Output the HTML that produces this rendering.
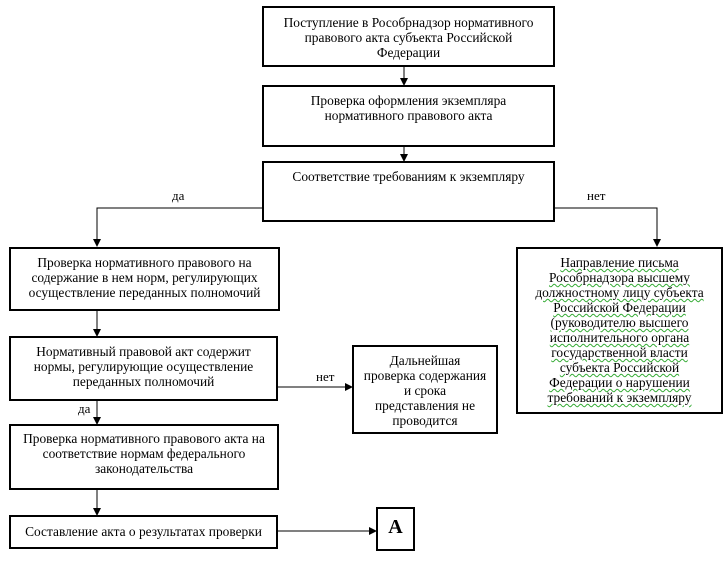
<!DOCTYPE html>
<html><head><meta charset="utf-8"><style>
body{margin:0;background:#fff;width:727px;height:564px;overflow:hidden;position:relative;font-family:"Liberation Serif",serif;font-size:13.4px;color:#000}
.b{position:absolute;border:2px solid #000;box-sizing:border-box;text-align:center;line-height:15px;padding-top:6px;background:#fff;white-space:nowrap}
.t{position:absolute;font-size:13px}
.w span{text-decoration:underline wavy #3a3;text-decoration-thickness:1px}
svg{position:absolute;left:0;top:0}
</style></head><body>
<svg width="727" height="564">
<defs><marker id="a" markerWidth="8" markerHeight="8" refX="7" refY="4" orient="auto" markerUnits="userSpaceOnUse"><path d="M0,0 L8,4 L0,8z" fill="#000"/></marker></defs>
<g stroke="#000" stroke-width="1" fill="none">
<line x1="404" y1="66" x2="404" y2="85" marker-end="url(#a)"/>
<line x1="404" y1="146" x2="404" y2="161" marker-end="url(#a)"/>
<polyline points="262,208 97,208 97,246" marker-end="url(#a)"/>
<polyline points="554,208 657,208 657,246" marker-end="url(#a)"/>
<line x1="97" y1="310" x2="97" y2="336" marker-end="url(#a)"/>
<line x1="97" y1="400" x2="97" y2="424" marker-end="url(#a)"/>
<line x1="97" y1="489" x2="97" y2="515" marker-end="url(#a)"/>
<line x1="277" y1="387" x2="352" y2="387" marker-end="url(#a)"/>
<line x1="277" y1="531" x2="376" y2="531" marker-end="url(#a)"/>
</g></svg>
<div class="b" style="left:262px;top:6px;width:293px;height:61px;padding-top:7px">Поступление в Рособрнадзор нормативного<br>правового акта субъекта Российской<br>Федерации</div>
<div class="b" style="left:262px;top:85px;width:293px;height:62px">Проверка оформления экземпляра<br>нормативного правового акта</div>
<div class="b" style="left:262px;top:161px;width:293px;height:61px">Соответствие требованиям к экземпляру</div>
<div class="t" style="left:172px;top:188px">да</div>
<div class="t" style="left:587px;top:188px">нет</div>
<div class="b" style="left:9px;top:247px;width:271px;height:64px">Проверка нормативного правового на<br>содержание в нем норм, регулирующих<br>осуществление переданных полномочий</div>
<div class="b w" style="left:516px;top:247px;width:207px;height:167px"><span>Направление письма</span><br><span>Рособрнадзора высшему</span><br><span>должностному лицу субъекта</span><br><span>Российской Федерации</span><br><span>(руководителю высшего</span><br><span>исполнительного органа</span><br><span>государственной власти</span><br><span>субъекта Российской</span><br><span>Федерации о нарушении</span><br><span>требований к экземпляру</span></div>
<div class="b" style="left:9px;top:336px;width:269px;height:65px">Нормативный правовой акт содержит<br>нормы, регулирующие осуществление<br>переданных полномочий</div>
<div class="t" style="left:316px;top:369px">нет</div>
<div class="b" style="left:352px;top:345px;width:146px;height:89px">Дальнейшая<br>проверка содержания<br>и срока<br>представления не<br>проводится</div>
<div class="t" style="left:78px;top:401px">да</div>
<div class="b" style="left:9px;top:424px;width:270px;height:66px;padding-top:5px">Проверка нормативного правового акта на<br>соответствие нормам федерального<br>законодательства</div>
<div class="b" style="left:9px;top:515px;width:269px;height:34px;padding-top:7px">Составление акта о результатах проверки</div>
<div class="b" style="left:376px;top:507px;width:39px;height:44px;font-size:20px;font-weight:bold;padding-top:8px;line-height:20px">А</div>
</body></html>
